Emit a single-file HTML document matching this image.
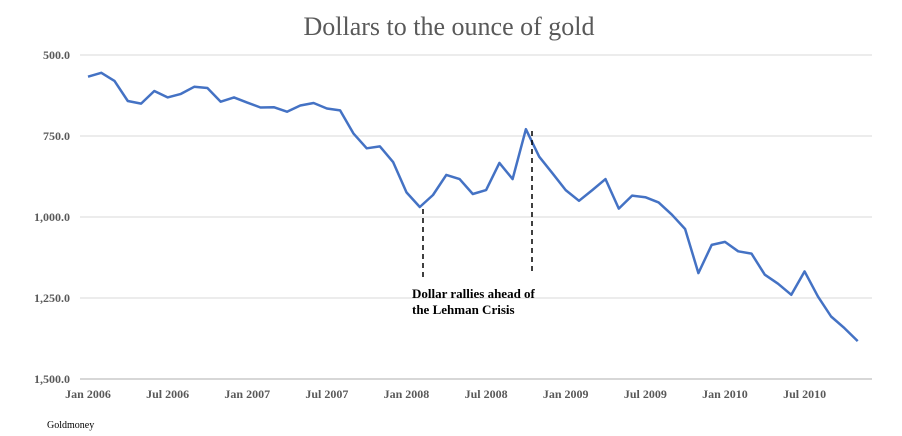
<!DOCTYPE html>
<html><head><meta charset="utf-8"><style>
body{margin:0;background:#fff;}
svg{display:block;font-family:"Liberation Serif",serif;}
</style></head><body>
<svg width="902" height="436">
<text x="449" y="35" text-anchor="middle" font-size="26" fill="#595959">Dollars to the ounce of gold</text>
<g id="grid"></g><g id="yt"></g><g id="xt"></g>
<path id="line" fill="none" stroke="#4472C4" stroke-width="2.5" stroke-linejoin="round"/>
<line x1="423" y1="209" x2="423" y2="278" stroke="#000" stroke-width="1.5" stroke-dasharray="5,4"/>
<line x1="532" y1="131" x2="532" y2="274" stroke="#000" stroke-width="1.5" stroke-dasharray="5,4"/>
<text x="412" y="298" font-size="13" font-weight="bold" fill="#000"><tspan x="412">Dollar rallies ahead of</tspan><tspan x="412" dy="16">the Lehman Crisis</tspan></text>
<text x="47" y="428" font-size="10" fill="#000">Goldmoney</text>
</svg>
<script>
const values=[567,555,580,642,650,611,631,620,598,602,644,631,647,662,661,675,656,648,665,671,742,788,782,831,924,969,932,870,883,929,917,833,883,729,814,865,917,950,917,883,974,934,939,955,993,1037,1173,1086,1077,1106,1113,1178,1206,1240,1168,1245,1307,1343,1383];
const yTicks=[500,750,1000,1250,1500];
const yTickLabels=["500.0","750.0","1,000.0","1,250.0","1,500.0"];
const xTickLabels=["Jan 2006","Jul 2006","Jan 2007","Jul 2007","Jan 2008","Jul 2008","Jan 2009","Jul 2009","Jan 2010","Jul 2010"];
const NS="http://www.w3.org/2000/svg";
const y=v=>55+(v-500)*324/1000;
const x=i=>88+i*13.27;
const grid=document.getElementById('grid'),yt=document.getElementById('yt'),xt=document.getElementById('xt');
yTicks.forEach((t,k)=>{
 const l=document.createElementNS(NS,'line');
 l.setAttribute('x1',80);l.setAttribute('x2',872);l.setAttribute('y1',y(t));l.setAttribute('y2',y(t));
 l.setAttribute('stroke',k==4?'#bfbfbf':'#e0e0e0');l.setAttribute('stroke-width',1.2);
 
 
 grid.appendChild(l);
 const tx=document.createElementNS(NS,'text');
 tx.setAttribute('x',70);tx.setAttribute('y',y(t)+4);tx.setAttribute('text-anchor','end');
 tx.setAttribute('font-size',12);tx.setAttribute('font-weight','bold');tx.setAttribute('fill','#595959');
 tx.textContent=yTickLabels[k];
 
 
 yt.appendChild(tx);
});
xTickLabels.forEach((s,k)=>{
 const tx=document.createElementNS(NS,'text');
 tx.setAttribute('x',x(k*6));tx.setAttribute('y',398);tx.setAttribute('text-anchor','middle');
 tx.setAttribute('font-size',12);tx.setAttribute('font-weight','bold');tx.setAttribute('fill','#595959');
 tx.textContent=s;
 
 
 xt.appendChild(tx);
});
document.getElementById('line').setAttribute('d',values.map((v,i)=>(i?'L':'M')+x(i).toFixed(1)+','+y(v).toFixed(1)).join(''));
</script>
</body></html>
